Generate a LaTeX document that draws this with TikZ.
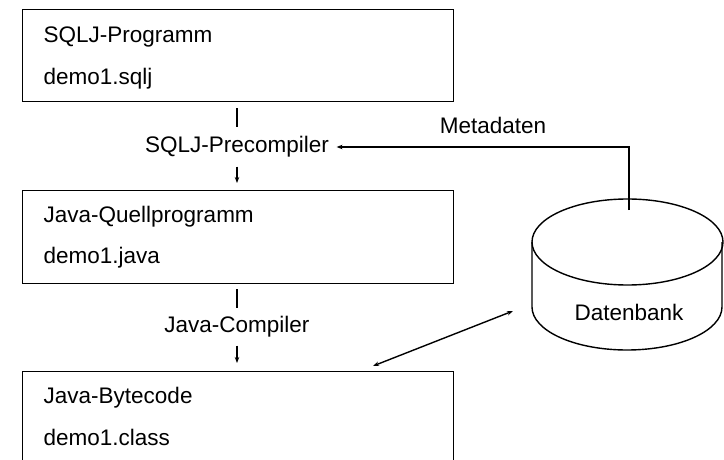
\documentclass[tikz,border=0pt]{standalone}
\usepackage{fontspec}
\setmainfont{Liberation Sans}
\usetikzlibrary{arrows.meta}
\begin{document}
\begin{tikzpicture}[x=1pt,y=-1pt,
  line width=1.4pt,
  every node/.style={font=\fontsize{22.5}{26}\selectfont, inner sep=0pt},
  box/.style={draw, rectangle, anchor=north west, inner sep=0pt},
  txt/.style={anchor=west},
  lbl/.style={minimum height=36pt},
  tip/.style={-{Stealth[length=6pt,width=4.5pt]}}]
\useasboundingbox (0,0) rectangle (724,460);
\clip (0,0) rectangle (724,460);
% boxes
\node[box, minimum width=431pt, minimum height=92pt] (b1) at (22,9) {};
\node[box, minimum width=431pt, minimum height=93pt] (b2) at (22,190) {};
\node[box, minimum width=431pt, minimum height=100pt] (b3) at (22,371) {};
\node[txt] (t1a) at (43,37) {SQLJ-Programm};
\node[txt] (t1b) at (43,79) {demo1.sqlj};
\node[txt] (t2a) at (43,217) {Java-Quellprogramm};
\node[txt] (t2b) at (43,258) {demo1.java};
\node[txt] (t3a) at (43,398) {Java-Bytecode};
\node[txt] (t3b) at (43,437) {demo1.class};
% labels
\node[lbl, minimum height=38pt] (pre) at (237,147) {SQLJ-Precompiler};
\node[lbl] (jc) at (237,327) {Java-Compiler};
\node (meta) at (493,125) {Metadaten};
% flow
\draw[shorten <=6pt] (b1.south -| pre) -- (pre.north);
\draw[tip, shorten >=7pt] (pre.south) -- (b2.north -| pre);
\draw[shorten <=5pt] (b2.south -| jc) -- (jc.north);
\draw[tip, shorten >=8pt] (jc.south) -- (b3.north -| jc);
% database
\draw (627.5,242) ellipse [x radius=95.5, y radius=43];
\draw (532,242) -- (532,307) arc [start angle=180, end angle=0, x radius=95, y radius=43] -- (722,242);
\node (db) at (629,312) {Datenbank};
\coordinate (dbtop) at (629,210);
\draw[tip, shorten >=7pt] (dbtop) |- (pre.east);
\coordinate (dbl) at (513,311);
\coordinate (b3r) at (373,366);
\draw[{Stealth[length=6pt,width=4.5pt]}-{Stealth[length=6pt,width=4.5pt]}] (dbl) -- (b3r);
\end{tikzpicture}
\end{document}
